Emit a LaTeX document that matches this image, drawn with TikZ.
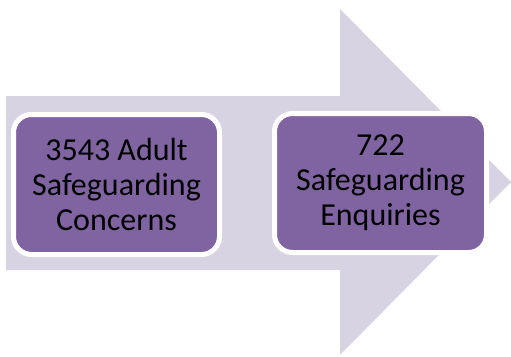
\documentclass[tikz,border=0pt]{standalone}
\usepackage{fontspec}
\setmainfont{Carlito}
\definecolor{arrowfill}{RGB}{216,211,227}
\definecolor{boxfill}{RGB}{128,100,162}

\begin{document}
\begin{tikzpicture}[
x=1pt,y=-1pt,
stage/.style={%
draw=white,
line width=5pt,
fill=boxfill,
rounded corners=18pt,
align=center,
inner sep=0pt,
font=\fontsize{32}{35}\selectfont
}
]
\useasboundingbox(0,0)rectangle(511,356);
%% Big arrow
\fill[arrowfill](6,96)--(340,96)--(340,9)--(511,182)--(340,355)--(340,270)--(6,270)--cycle;
%% Stages
\node[stage,minimum width=206pt,minimum height=140pt]at(116.5,184.5)(concerns){3543 Adult\\Safeguarding\\Concerns};
\node[stage,minimum width=212pt,minimum height=139pt]at(380.5,183)(enquiries){722\\Safeguarding\\Enquiries};
\end{tikzpicture}
\end{document}
